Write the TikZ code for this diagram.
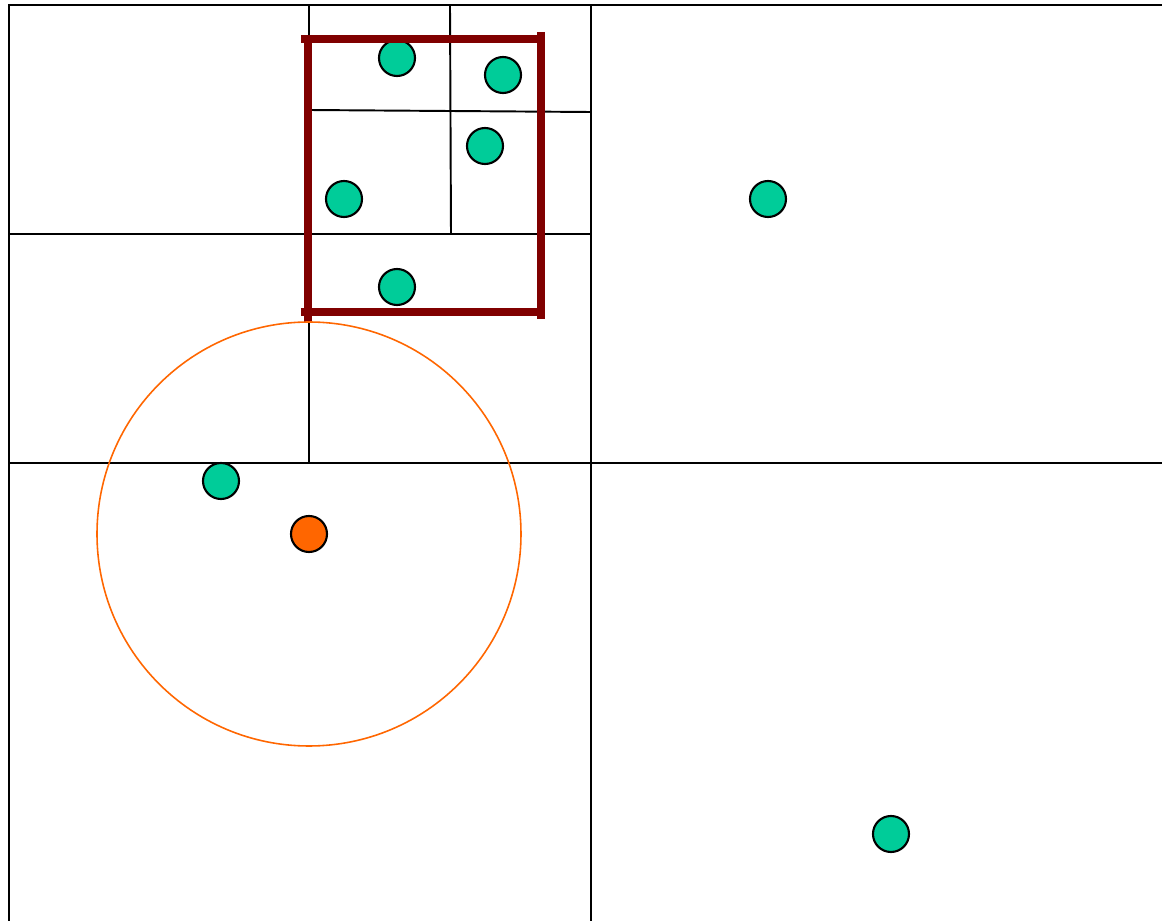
\documentclass[tikz,border=0pt]{standalone}
\usetikzlibrary{positioning}
\definecolor{pointgreen}{HTML}{00CC99}
\definecolor{queryorange}{HTML}{FF6600}
\definecolor{boxred}{HTML}{800000}

\begin{document}
\begin{tikzpicture}[x=.01cm,y=-.01cm,
    cell/.style={black,line width=.55pt},
    datapt/.style={circle,draw=black,line width=.6pt,fill=pointgreen,
      minimum size=.36cm,inner sep=0pt},
    querypt/.style={datapt,fill=queryorange},
    rangebox/.style={boxred,line width=2.3pt}]
        \useasboundingbox (0,0) rectangle (1162,921);

        \draw[cell,line width=.7pt] (9,921) -- (9,5) -- (1162,5);
        \draw[cell] (591,5) -- (591,921);
        \draw[cell] (9,463) -- (1162,463);
        \draw[cell] (309,5) -- (309,463);
        \draw[cell] (9,234) -- (591,234);
        \draw[cell] (450,5) -- (451,234);
        \draw[cell] (309,110) -- (591,112);

        \node[datapt] (a) at (397,58) {};
        \node[datapt] (b) at (503,75) {};
        \node[datapt] (c) at (485,146) {};
        \node[datapt] (d) at (344,199) {};
        \node[datapt] (e) at (397,287) {};
        \node[datapt] (f) at (768,199) {};
        \node[datapt] (g) at (221,481) {};
        \node[datapt] (h) at (891,834) {};

        \draw[rangebox] (301,39) -- (541,39);
        \draw[rangebox] (308,35) -- (308,322);
        \draw[rangebox] (541,32) -- (541,319);
        \draw[rangebox] (301,312) -- (541,312);

        \node[querypt] (q) at (309,534) {};
        \draw[queryorange,line width=.45pt] (q.center) circle[radius=212];
      \end{tikzpicture}
\end{document}
